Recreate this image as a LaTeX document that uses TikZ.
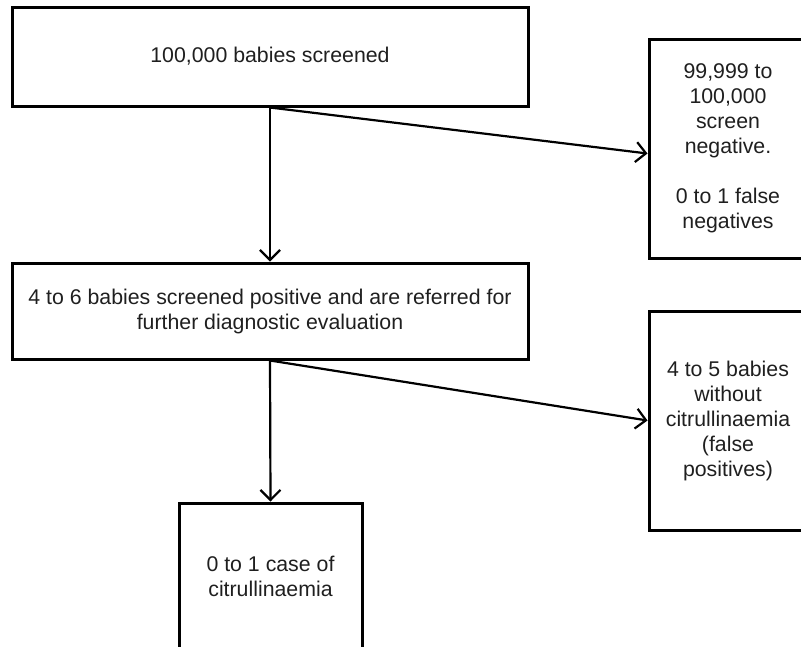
\documentclass[tikz,border=0pt]{standalone}
\usepackage{fontspec}
\setmainfont{Liberation Sans}
\usepackage{tikz}
\usetikzlibrary{arrows.meta}
\tikzset{
    every node/.style={align=center,font=\fontsize{21.3}{25}\selectfont,text=black!88,},
    box/.style={draw,rectangle,line width=3pt,inner sep=0pt,},
    flow/.style={line width=2.2pt,-{Straight Barb[length=10pt,width=20pt,line width=2.2pt]},},
}

\begin{document}
\begin{tikzpicture}[x=1pt,y=-1pt]
        \useasboundingbox (0,0) rectangle (801,646);
        \clip (0,0) rectangle (801,646);

        \node[box,minimum width=516pt,minimum height=99pt] (screened) at (270, 56.5) {100,000 babies screened};

        \node[box,minimum width=158pt,minimum height=219pt] (negative) at (728, 148.5) {99,999 to\\100,000\\screen\\negative.\\[25pt]0 to 1 false\\negatives};

        \node[box,minimum width=516pt,minimum height=96pt] (positive) at (270, 311) {4 to 6 babies screened positive and are referred for\\further diagnostic evaluation};

        \node[box,minimum width=158pt,minimum height=219pt] (falsepos) at (728, 420.5) {4 to 5 babies\\without\\citrullinaemia\\(false\\positives)};

        \node[box,minimum width=183pt,minimum height=146pt] (cases) at (270.5, 576) {0 to 1 case of\\citrullinaemia};

        \draw[flow] (screened.south) to (positive.north);
        \draw[flow] (screened.south) to ([yshift=-5pt]negative.west);

        \draw[flow] (positive.south) to (cases.north);
        \draw[flow] (positive.south) to (falsepos.west);
    \end{tikzpicture}
\end{document}
